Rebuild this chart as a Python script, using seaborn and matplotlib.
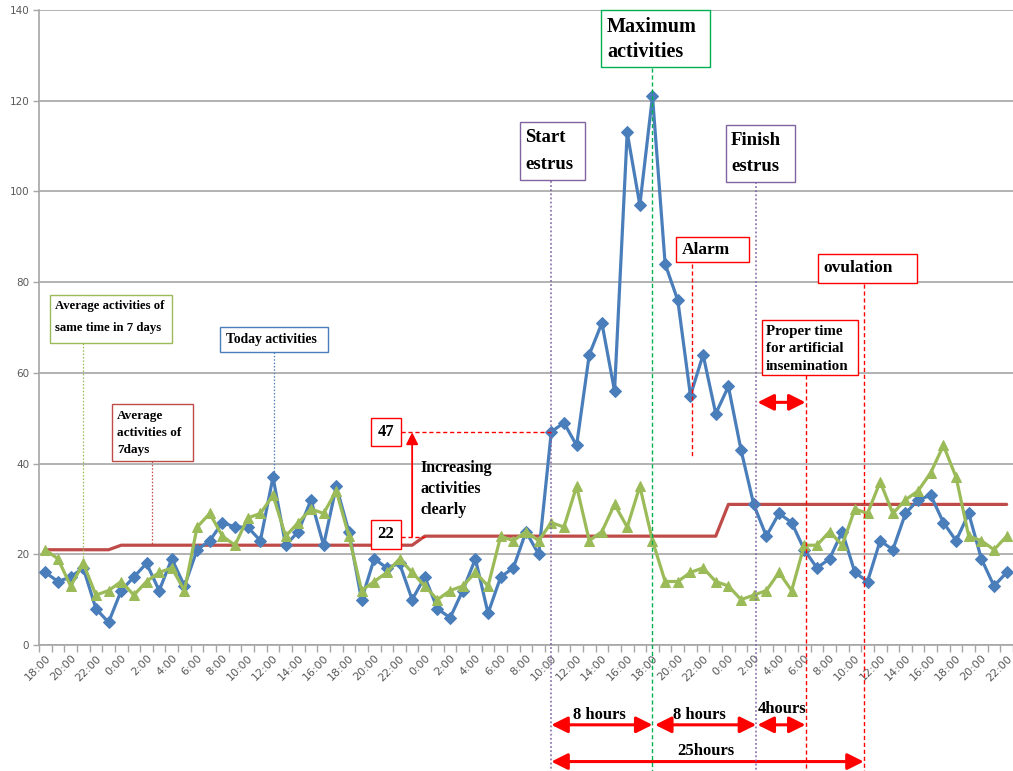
import matplotlib
matplotlib.use("Agg")
import matplotlib.pyplot as plt
import seaborn as sns
import pandas as pd
from matplotlib.patches import Rectangle

# ---------------- data ----------------
tick_labels = ["18:00", "20:00", "22:00", "0:00", "2:00", "4:00", "6:00", "8:00", "10:00",
               "12:00", "14:00", "16:00", "18:00", "20:00", "22:00", "0:00", "2:00", "4:00",
               "6:00", "8:00", "10:00", "12:00", "14:00", "16:00", "18:00", "20:00", "22:00",
               "0:00", "2:00", "4:00", "6:00", "8:00", "10:00", "12:00", "14:00", "16:00",
               "18:00", "20:00", "22:00"]

today_activities = [16, 14, 15, 17, 8, 5, 12, 15, 18, 12,
                    19, 13, 21, 23, 27, 26, 26, 23, 37, 22,
                    25, 32, 22, 35, 25, 10, 19, 17, 18, 10,
                    15, 8, 6, 12, 19, 7, 15, 17, 25, 20,
                    47, 49, 44, 64, 71, 56, 113, 97, 121, 84,
                    76, 55, 64, 51, 57, 43, 31, 24, 29, 27,
                    21, 17, 19, 25, 16, 14, 23, 21, 29, 32,
                    33, 27, 23, 29, 19, 13, 16]

avg_same_time_7days = [21, 19, 13, 18, 11, 12, 14, 11, 14, 16,
                       17, 12, 26, 29, 24, 22, 28, 29, 33, 24,
                       27, 30, 29, 34, 24, 12, 14, 16, 19, 16,
                       13, 10, 12, 13, 16, 13, 24, 23, 25, 23,
                       27, 26, 35, 23, 25, 31, 26, 35, 23, 14,
                       14, 16, 17, 14, 13, 10, 11, 12, 16, 12,
                       22, 22, 25, 22, 30, 29, 36, 29, 32, 34,
                       38, 44, 37, 24, 23, 21, 24]

avg_7days = [21, 21, 21, 21, 21, 21, 22, 22, 22, 22,
             22, 22, 22, 22, 22, 22, 22, 22, 22, 22,
             22, 22, 22, 22, 22, 22, 22, 22, 22, 22,
             24, 24, 24, 24, 24, 24, 24, 24, 24, 24,
             24, 24, 24, 24, 24, 24, 24, 24, 24, 24,
             24, 24, 24, 24, 31, 31, 31, 31, 31, 31,
             31, 31, 31, 31, 31, 31, 31, 31, 31, 31,
             31, 31, 31, 31, 31, 31, 31]

df = pd.DataFrame({
    "hour": list(range(len(today_activities))),
    "today": today_activities,
    "same_time": avg_same_time_7days,
    "avg7": avg_7days,
})

BLUE = "#4A7EBB"
GREEN = "#9BBB59"
RED = "#BE4B48"
GRID = "#A6A6A6"
TXT = "#595959"
SERIF = "Liberation Serif"

sns.set_style("white")

W, H = 1013, 771
fig = plt.figure(figsize=(W / 100, H / 100), dpi=100)
ax = fig.add_axes([39 / W, 126 / H, 974 / W, 635 / H])

sns.lineplot(data=df, x="hour", y="avg7", ax=ax, color=RED, lw=2.3, zorder=2)
sns.lineplot(data=df, x="hour", y="today", ax=ax, color=BLUE, lw=2.3, marker="D",
             markersize=5.8, markeredgecolor=BLUE, markerfacecolor=BLUE, zorder=3)
sns.lineplot(data=df, x="hour", y="same_time", ax=ax, color=GREEN, lw=2.3, marker="^",
             markersize=7.5, markeredgecolor=GREEN, markerfacecolor=GREEN, zorder=4)

ax.set_xlim(-0.5, len(today_activities) - 0.5)
ax.set_ylim(0, 140)
ax.set_xlabel("")
ax.set_ylabel("")
ax.set_yticks(range(0, 141, 20))
ax.yaxis.grid(True, color=GRID, lw=1.2)
ax.xaxis.grid(False)
ax.set_axisbelow(True)
for s in ["top", "right"]:
    ax.spines[s].set_visible(False)
for s in ["left", "bottom"]:
    ax.spines[s].set_color(GRID)
    ax.spines[s].set_linewidth(1.2)

ax.set_xticks(range(0, len(today_activities), 2))
ax.set_xticklabels(tick_labels, rotation=45, ha="right", va="top",
                   rotation_mode="anchor", fontsize=8, color=TXT)
ax.set_xticks([x - 0.5 for x in range(len(today_activities) + 1)], minor=True)
ax.tick_params(axis="x", which="major", length=0, pad=6)
ax.tick_params(axis="x", which="minor", length=5, color=GRID, width=1, direction="out")
ax.tick_params(axis="y", which="major", length=4, color=GRID, width=1, labelsize=7.5,
               labelcolor=TXT, pad=3)
ax.tick_params(bottom=True, left=True, which="both")


def fx(px):
    return px / W


def fy(py):
    return 1 - py / H


def box(l, t, r, b, ec, lw=1.0):
    fig.add_artist(Rectangle((fx(l), fy(b)), fx(r) - fx(l), fy(t) - fy(b),
                             transform=fig.transFigure, fc="white", ec=ec, lw=lw, zorder=10))


def label(x, y, s, size, ha="left", ls=1.15):
    fig.text(fx(x), fy(y), s, ha=ha, va="center", fontsize=size, family=SERIF,
             fontweight="bold", linespacing=ls, zorder=11, color="black")


def vline(x, y0, y1, color, ls, lw=1.0):
    ax.plot([x, x], [y0, y1], color=color, ls=ls, lw=lw, clip_on=False, zorder=6)


def harrow(x0, x1, y, both=True):
    style = "<|-|>,head_length=0.7,head_width=0.35" if both else "-|>,head_length=0.7,head_width=0.35"
    ax.annotate("", xy=(x1, y), xytext=(x0, y), annotation_clip=False,
                arrowprops=dict(arrowstyle=style, color="red", lw=2.2, shrinkA=0, shrinkB=0,
                                mutation_scale=14))


DOT = (0, (1.2, 1.5))
DASH = (0, (3, 2))

# guide lines
vline(3, 66.5, 18, "#9BBB59", DOT, 0.9)          # average same time
vline(18.1, 64.5, 37, BLUE, DOT, 0.9)            # today activities
vline(8.4, 40.5, 22, RED, DOT, 0.9)              # average 7 days
vline(40, 102.4, -28, "#8064A2", DOT, 1.1)       # start estrus
vline(48, 127.3, -28, "#00B050", DASH, 1.0)      # maximum
vline(56.2, 102, -28, "#8064A2", DOT, 1.1)       # finish estrus
vline(51.1, 84.1, 41.4, "red", DASH, 1.0)        # alarm
vline(60.1, 59.5, -28, "red", DASH, 1.0)         # proper time
vline(64.7, 79.5, -28, "red", DASH, 1.0)         # ovulation

ax.plot([28.1, 40], [46.9, 46.9], color="red", ls=DASH, lw=1.0, zorder=6)
ax.plot([28.1, 30], [23.9, 23.9], color="red", ls=DASH, lw=1.0, zorder=6)
ax.annotate("", xy=(29.0, 46.9), xytext=(29.0, 23.9),
            arrowprops=dict(arrowstyle="-|>,head_length=0.6,head_width=0.3", color="red",
                            lw=1.3, shrinkA=0, shrinkB=0, mutation_scale=12))

# arrows
harrow(40, 48, -17.6)
harrow(48.2, 56.2, -17.6)
harrow(56.3, 60.1, -17.6)
harrow(40, 64.7, -25.7)
harrow(56.3, 60.1, 53.5)

# boxes and texts
box(50, 295, 172, 343, "#9BBB59")
label(55, 317, "Average activities of\nsame time in 7 days", 9.2, ls=2.0)
box(220, 327, 328, 352, BLUE)
label(226, 339.5, "Today activities", 9.8)
box(112, 404, 193, 461, RED)
label(117, 433, "Average\nactivities of\n7days", 9.5, ls=1.6)
box(371, 418, 401, 446, "red")
label(386, 432, "47", 12, ha="center")
box(371, 520, 401, 549, "red")
label(386, 534.5, "22", 12, ha="center")
label(420, 489, "Increasing\nactivities\nclearly", 11.5, ls=1.45)
box(520, 122, 585, 180, "#8064A2")
label(525, 151, "Start\nestrus", 13.5, ls=1.7)
box(601, 10, 710, 67, "#00B050")
label(607, 39.5, "Maximum\nactivities", 14.5, ls=1.35)
box(726, 125, 795, 182, "#8064A2")
label(731, 153.5, "Finish\nestrus", 13.5, ls=1.7)
box(676, 237, 749, 262, "red")
label(682, 249.5, "Alarm", 12.5)
box(818, 254, 917, 283, "red")
label(823, 268.5, "ovulation", 12.5)
box(762, 320, 858, 375, "red")
label(766, 349, "Proper time\nfor artificial\ninsemination", 10.8, ls=1.45)

label(599, 715, "8 hours", 12, ha="center")
label(699, 715, "8 hours", 12, ha="center")
label(782, 709, "4hours", 12, ha="center")
label(706, 751, "25hours", 12, ha="center")

fig.savefig("out.png", dpi=100)
